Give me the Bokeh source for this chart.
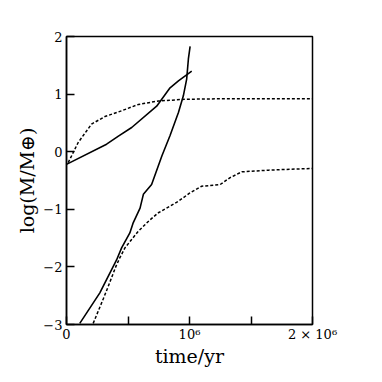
from bokeh.plotting import figure
from bokeh.models import FixedTicker, Range1d
from bokeh.embed import file_html
from bokeh.resources import INLINE

# Series (time in years, log mass in Earth masses)
t_solid_a = [0, 0.326e6, 0.422e6, 0.530e6, 0.733e6, 0.842e6, 0.910e6, 1.018e6]
m_solid_a = [-0.22, 0.13, 0.27, 0.42, 0.79, 1.11, 1.23, 1.40]

t_solid_b = [0.108e6, 0.271e6, 0.407e6, 0.448e6, 0.515e6, 0.543e6, 0.598e6, 0.625e6, 0.692e6,
             0.776e6, 0.842e6, 0.910e6, 0.950e6, 0.977e6, 0.991e6, 1.005e6]
m_solid_b = [-2.98, -2.45, -1.88, -1.67, -1.41, -1.23, -0.98, -0.74, -0.57,
             -0.07, 0.28, 0.68, 0.97, 1.26, 1.61, 1.83]

t_dot_c = [0.014e6, 0.095e6, 0.204e6, 0.312e6, 0.422e6, 0.584e6, 0.747e6, 0.964e6, 1.289e6, 2.0e6]
m_dot_c = [-0.19, 0.16, 0.48, 0.61, 0.69, 0.82, 0.88, 0.91, 0.92, 0.92]

t_dot_d = [0.217e6, 0.30e6, 0.339e6, 0.40e6, 0.434e6, 0.475e6, 0.584e6, 0.67e6, 0.747e6, 0.91e6,
           1.0e6, 1.099e6, 1.249e6, 1.33e6, 1.425e6, 1.643e6, 2.0e6]
m_dot_d = [-2.98, -2.55, -2.34, -2.0, -1.84, -1.67, -1.38, -1.2, -1.06, -0.86,
           -0.72, -0.60, -0.57, -0.45, -0.35, -0.32, -0.29]

x_ticks = [0, 0.5e6, 1e6, 1.5e6, 2e6]
x_tick_labels = {0: "0", 500000: "", 1000000: "10⁶", 1500000: "", 2000000: "2 × 10⁶"}
y_ticks = [-3, -2, -1, 0, 1, 2]
y_tick_labels = {-3: "−3", -2: "−2", -1: "−1", 0: "0", 1: "1", 2: "2"}

p = figure(width=372, height=373, output_backend="svg", toolbar_location=None,
           x_range=Range1d(0, 2e6), y_range=Range1d(-3, 2),
           min_border_left=66, min_border_right=60, min_border_top=36, min_border_bottom=49)

p.line(t_solid_a, m_solid_a, line_color="black", line_width=1.6)
p.line(t_solid_b, m_solid_b, line_color="black", line_width=1.6)
p.line(t_dot_c, m_dot_c, line_color="black", line_width=1.5, line_dash="3 2")
p.line(t_dot_d, m_dot_d, line_color="black", line_width=1.5, line_dash="3 2")

p.xgrid.visible = False
p.ygrid.visible = False
p.outline_line_color = "black"
p.outline_line_width = 1.5
p.background_fill_color = "white"
p.border_fill_color = "white"

serif = "DejaVu Serif"
for ax in (p.xaxis[0], p.yaxis[0]):
    ax.major_tick_in = 8
    ax.major_tick_out = 0
    ax.minor_tick_line_color = None
    ax.axis_line_width = 1.5
    ax.major_tick_line_width = 1.5
    ax.major_label_text_font = serif
    ax.major_label_text_font_size = "13px"
    ax.major_label_text_color = "black"
    ax.axis_label_text_font = serif
    ax.axis_label_text_font_style = "normal"
    ax.axis_label_text_font_size = "19px"
    ax.axis_label_text_color = "black"

p.xaxis.ticker = FixedTicker(ticks=x_ticks)
p.xaxis.major_label_overrides = x_tick_labels
p.xaxis.axis_label = "time/yr"
p.xaxis.major_label_standoff = 2
p.xaxis.axis_label_standoff = 0

p.yaxis.ticker = FixedTicker(ticks=y_ticks)
p.yaxis.major_label_overrides = y_tick_labels
p.yaxis.axis_label = "log(M/M⊕)"
p.yaxis.major_label_standoff = 4
p.yaxis.axis_label_standoff = 2

open("out.html", "w").write(file_html(p, INLINE))
